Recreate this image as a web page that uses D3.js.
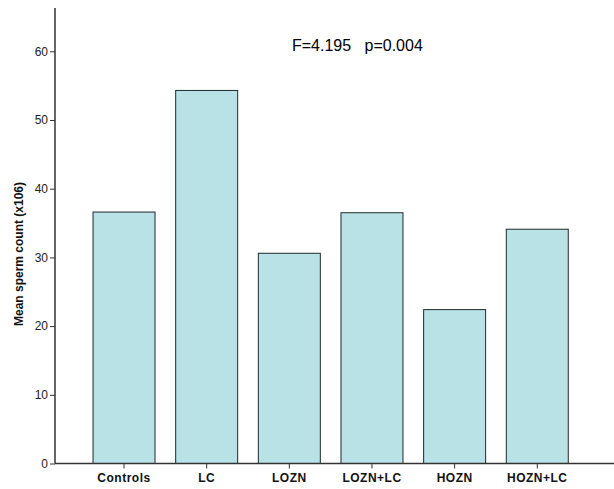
<!DOCTYPE html>
<html><head><meta charset="utf-8">
<script src="https://cdn.jsdelivr.net/npm/d3@7"></script>
<style>body{margin:0;background:#fff}svg{display:block}</style>
</head><body>
<script>
const categories = ["Controls","LC","LOZN","LOZN+LC","HOZN","HOZN+LC"];
const values = [36.6, 54.3, 30.6, 36.5, 22.4, 34.1];
const yTicks = [0,10,20,30,40,50,60];
const yLabel = "Mean sperm count (x106)";
const annotation = "F=4.195   p=0.004";

const W = 614, H = 489;
const svg = d3.select("body").append("svg").attr("width", W).attr("height", H);
const x0 = 55, y0 = 463.5, yTop = 8;
const y = d3.scaleLinear().domain([0, 66.3]).range([y0, yTop]);
const x = d3.scaleBand().domain(categories).range([82.7, 578.6]).paddingInner(0.25).paddingOuter(0.125);

svg.selectAll("rect.bar").data(categories).enter().append("rect")
  .attr("class","bar")
  .attr("x", d => x(d))
  .attr("y", (d,i) => y(values[i]))
  .attr("width", x.bandwidth())
  .attr("height", (d,i) => y0 - y(values[i]))
  .attr("fill", "#b8e2e6")
  .attr("stroke", "#1e2a2a")
  .attr("stroke-width", 1);

// y axis
const ya = svg.append("g").attr("transform", `translate(${x0},0)`)
  .call(d3.axisLeft(y).tickValues(yTicks).tickSize(5).tickPadding(2));
ya.select(".domain").remove();
ya.selectAll(".tick line").attr("stroke", "#333");
ya.selectAll(".tick text").attr("font-family", "Liberation Sans, Arial, sans-serif").attr("font-size", 12).attr("fill", "#222");
svg.append("line").attr("x1", x0).attr("x2", x0).attr("y1", yTop).attr("y2", y0).attr("stroke", "#333").attr("stroke-width", 1.5);

// x axis
const xa = svg.append("g").attr("transform", `translate(0,${y0})`)
  .call(d3.axisBottom(x).tickSize(5).tickPadding(5));
xa.select(".domain").remove();
xa.selectAll(".tick line").attr("stroke", "#333");
xa.selectAll(".tick text").attr("font-family", "Liberation Sans, Arial, sans-serif").attr("font-size", 12)
  .attr("font-weight", "bold").attr("fill", "#111").attr("letter-spacing", "0.5px");
svg.append("line").attr("x1", x0).attr("x2", W).attr("y1", y0).attr("y2", y0).attr("stroke", "#333").attr("stroke-width", 1.5);

svg.append("text")
  .attr("transform", `translate(23,${254}) rotate(-90)`)
  .attr("text-anchor", "middle")
  .attr("font-family", "Liberation Sans, Arial, sans-serif")
  .attr("font-size", 12).attr("font-weight", "bold").attr("fill", "#111")
  .text(yLabel);

svg.append("text")
  .attr("x", 292).attr("y", 50.5)
  .attr("font-family", "Liberation Sans, Arial, sans-serif")
  .attr("font-size", 16).attr("fill", "#000")
  .attr("xml:space", "preserve").style("white-space", "pre")
  .text(annotation);
</script>
</body></html>
